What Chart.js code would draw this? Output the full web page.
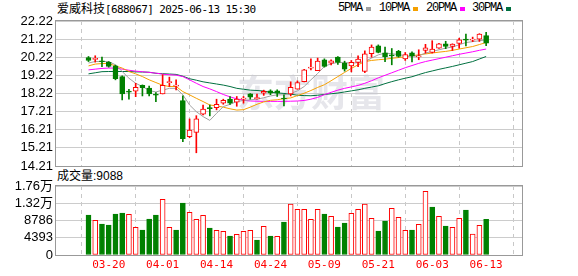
<!DOCTYPE html>
<html>
<head>
<meta charset="utf-8">
<script src="https://cdn.jsdelivr.net/npm/chart.js@4"></script>
<style>
  body { margin: 0; background: #fff; width: 578px; height: 276px; overflow: hidden; position: relative; }
  .txt { position: absolute; white-space: nowrap; color: #000; }
  #title { left: 57px; top: 1px; font: 12px/14px "Noto Sans CJK SC"; }
  #title .a { font: 11px "DejaVu Sans Mono"; letter-spacing: -0.6px; }
  #legend { left: 0; top: 1px; font: 12px/14px "Liberation Mono"; letter-spacing: -1.2px; }
  #legend span { position: absolute; }
  #legend i { position: absolute; width: 5px; height: 4px; top: 6px; }
  #volTitle { left: 57px; top: 169px; font: 12px/15px "Liberation Sans", "Noto Sans CJK SC"; }
  canvas { position: absolute; left: 0; }
  #kline { top: 0; }
  #vol { top: 170px; }
</style>
</head>
<body>
<div id="title" class="txt">爱威科技<span class="a">[688067] 2025-06-13 15:30</span></div>
<div id="legend" class="txt"></div>
<div id="volTitle" class="txt">成交量:9088</div>
<canvas id="kline" width="578" height="182"></canvas>
<canvas id="vol" width="578" height="106"></canvas>
<script>
const dates = ['03-17','03-18','03-19','03-20','03-21','03-24','03-25','03-26','03-27','03-28',
  '03-31','04-01','04-02','04-03','04-07','04-08','04-09','04-10','04-11','04-14',
  '04-15','04-16','04-17','04-18','04-21','04-22','04-23','04-24','04-25','04-28',
  '04-29','04-30','05-06','05-07','05-08','05-09','05-12','05-13','05-14','05-15',
  '05-16','05-19','05-20','05-21','05-22','05-23','05-26','05-27','05-28','05-29',
  '05-30','06-03','06-04','06-05','06-06','06-09','06-10','06-11','06-12','06-13'];

const opens = [20.20,20.10,19.99,19.93,19.74,19.15,18.31,18.34,18.67,18.51,
  18.14,18.19,18.82,18.62,17.82,15.83,16.07,17.07,17.42,17.43,
  17.68,17.91,17.73,17.90,18.19,17.93,18.23,18.36,18.36,17.94,
  18.19,18.45,18.87,19.62,19.48,20.08,19.89,20.22,19.89,19.74,
  19.93,19.43,20.42,20.85,20.46,20.31,20.54,20.13,20.46,20.24,
  20.59,20.48,20.72,20.96,20.81,20.98,21.18,21.16,21.22,21.41];
const highs = [20.26,20.30,20.22,19.98,19.78,19.19,18.45,18.78,18.69,18.63,
  18.26,19.25,19.12,18.97,18.08,16.81,16.99,17.58,17.58,17.90,
  17.90,18.05,18.05,18.05,18.21,18.18,18.40,18.42,18.42,18.14,
  18.86,18.91,19.55,20.13,20.17,20.13,20.07,20.26,20.00,20.04,
  20.30,20.57,20.90,20.90,20.78,20.70,20.60,20.48,20.52,20.63,
  20.93,21.13,20.98,21.10,20.96,21.27,21.50,21.33,21.52,21.60];
const lows = [19.98,19.95,19.70,19.67,18.97,17.86,17.90,18.04,18.08,18.08,
  17.77,18.19,18.60,18.41,15.56,15.77,14.94,17.03,16.98,17.31,
  17.62,17.61,17.51,17.68,17.90,17.90,18.11,18.15,18.05,17.53,
  18.08,18.45,18.85,19.52,19.48,19.67,19.79,19.82,19.45,19.41,
  19.70,19.37,20.22,20.46,19.97,19.80,20.22,20.04,19.96,20.08,
  20.44,20.45,20.70,20.69,20.59,20.72,20.85,21.08,21.09,20.86];
const closes = [20.04,20.13,19.97,19.71,19.04,18.19,18.29,18.56,18.54,18.19,
  18.12,18.67,18.86,18.66,15.72,16.20,16.81,17.36,17.38,17.62,
  17.84,17.68,17.91,17.93,18.01,17.96,18.34,18.23,18.23,17.91,
  18.56,18.82,19.52,19.67,20.00,19.71,20.02,19.93,19.56,19.93,
  20.11,20.41,20.78,20.48,20.24,20.29,20.26,20.37,20.30,20.28,
  20.74,20.67,20.96,20.81,20.94,21.18,21.16,21.20,21.50,21.00];

const ma5 = [19.90,19.98,19.98,19.98,19.80,19.43,19.06,18.78,18.60,18.38,
  18.30,18.40,18.50,18.50,18.14,17.58,17.21,16.94,16.73,17.12,
  17.49,17.62,17.77,17.83,17.86,17.90,17.98,18.08,18.14,18.14,
  18.22,18.36,18.60,18.97,19.32,19.71,19.86,19.93,19.93,19.89,
  19.92,19.98,20.17,20.35,20.45,20.41,20.37,20.30,20.26,20.30,
  20.45,20.54,20.63,20.72,20.78,20.91,21.03,21.08,21.13,21.18];
const ma10 = [19.74,19.84,19.87,19.87,19.74,19.62,19.43,19.30,19.15,18.97,
  18.82,18.67,18.60,18.60,18.32,18.14,17.95,17.77,17.58,17.53,
  17.46,17.37,17.30,17.32,17.46,17.62,17.75,17.84,17.87,17.93,
  17.97,18.10,18.23,18.38,18.55,18.70,18.92,19.15,19.38,19.60,
  19.80,19.98,20.04,20.08,20.11,20.16,20.20,20.24,20.30,20.35,
  20.40,20.45,20.50,20.54,20.60,20.67,20.74,20.81,20.92,21.03];
const ma20 = [19.52,19.56,19.60,19.62,19.62,19.56,19.50,19.45,19.42,19.38,
  19.34,19.28,19.25,19.23,19.15,18.97,18.78,18.60,18.47,18.32,
  18.16,18.03,17.92,17.84,17.80,17.79,17.78,17.78,17.78,17.78,
  17.79,17.80,17.83,17.90,18.00,18.15,18.28,18.40,18.50,18.58,
  18.66,18.78,18.92,19.08,19.22,19.36,19.50,19.64,19.76,19.88,
  19.98,20.06,20.14,20.22,20.30,20.38,20.45,20.52,20.60,20.67];
const ma30 = [19.30,19.36,19.42,19.43,19.43,19.43,19.43,19.41,19.40,19.39,
  19.33,19.31,19.29,19.27,19.17,19.03,18.95,18.86,18.80,18.74,
  18.68,18.60,18.50,18.45,18.40,18.38,18.35,18.28,18.25,18.22,
  18.18,18.12,18.10,18.09,18.12,18.16,18.20,18.24,18.30,18.36,
  18.42,18.50,18.57,18.64,18.76,18.87,18.97,19.06,19.14,19.26,
  19.37,19.46,19.55,19.63,19.71,19.80,19.89,19.98,20.12,20.26];

const volumes = [10187,8829,7895,7640,10441,10696,10357,7046,6367,9168,
  10187,14176,7046,6367,13243,10866,9083,10102,6876,6282,
  6027,4839,5263,6027,6282,3820,7300,4839,4754,8404,
  12988,11630,11630,9083,11630,10441,9847,7131,8149,10611,
  11630,12988,9338,6112,8659,11884,9593,6282,6367,7810,
  16214,12224,9847,7385,7046,9338,11460,5348,7555,9088];
// 1 = red (up) volume bar, 0 = green
const volUp = [0,1,0,0,0,0,1,1,0,0, 0,1,1,0,0,1,1,1,0,1,
  1,0,1,1,1,0,1,0,1,0, 1,1,1,1,1,0,1,0,0,1,
  1,1,1,0,0,1,1,1,0,1, 1,0,1,0,1,1,0,1,1,0];

const priceTicks = [14.21,15.21,16.21,17.21,18.22,19.22,20.22,21.22,22.22];
const volTicks = [0,4393,8786,13179,17572];
const volTickLabels = ['0','4393','8786','1.32万','1.76万'];
const dateTicks = [3,11,19,27,35,43,51,59];
const maNames = ['5PMA','10PMA','20PMA','30PMA'];

const RED = '#ff0000', GREEN = '#008000';
const maColors = ['#a0a0a0','#f5a000','#ff00ff','#007040'];
const tickFont = { family: '"Liberation Sans", "Noto Sans CJK SC"', size: 13 };

// legend
const legendLefts = [338, 379, 426, 472];
const legend = document.getElementById('legend');
maNames.forEach((n, k) => {
  const s = document.createElement('span');
  s.textContent = n;
  s.style.left = legendLefts[k] + 'px';
  legend.appendChild(s);
  const q = document.createElement('i');
  q.style.left = (legendLefts[k] + n.length * 6 + 4) + 'px';
  q.style.background = maColors[k];
  legend.appendChild(q);
});

const frame = {
  id: 'frame',
  beforeDatasetsDraw(chart, args, opts) {
    if (!opts.mark) return;
    const ctx = chart.ctx;
    ctx.save();
    ctx.font = 'bold 37px "Noto Sans CJK SC"';
    ctx.fillStyle = 'rgba(200,200,210,0.45)';
    ctx.textAlign = 'center';
    ctx.textBaseline = 'middle';
    ctx.fillText(opts.mark, 311, 93);
    ctx.restore();
  },
  afterDraw(chart) {
    const a = chart.chartArea, ctx = chart.ctx;
    ctx.save();
    ctx.strokeStyle = '#999';
    ctx.lineWidth = 1;
    ctx.strokeRect(Math.round(a.left) - 0.5, Math.round(a.top) - 0.5,
      Math.round(a.right - a.left) + 1, Math.round(a.bottom - a.top) + 1);
    ctx.restore();
  }
};

const idx = dates.map((d, i) => i);
const up = idx.map(i => closes[i] >= opens[i]);

function maSet(vals, k) {
  return {
    type: 'line',
    data: vals.map((v, i) => ({ x: i, y: v })),
    borderColor: maColors[k],
    borderWidth: 1,
    pointRadius: 0,
    tension: 0,
    order: 5
  };
}

function xAxis(showLabels, h) {
  return {
    type: 'linear', min: -0.5, max: 60,
    afterBuildTicks: s => { s.ticks = dateTicks.map(v => ({ value: v })); },
    afterFit: s => { s.height = h; },
    ticks: {
      display: showLabels, color: RED, padding: 4,
      font: { family: '"DejaVu Sans Mono"', size: 11 },
      maxRotation: 0, autoSkip: false,
      callback: v => dates[v]
    },
    grid: { color: '#c8c8c8', drawTicks: false },
    border: { display: false, dash: [4, 4] }
  };
}

function yAxis(min, max, ticks, fmt) {
  return {
    min: min, max: max,
    afterBuildTicks: s => { s.ticks = ticks.map(v => ({ value: v })); },
    afterFit: s => { s.width = 56; },
    ticks: { color: '#000', font: tickFont, padding: 3, autoSkip: false, callback: fmt },
    grid: { color: '#cccccc', drawTicks: false },
    border: { display: false }
  };
}

new Chart(document.getElementById('kline'), {
  type: 'bar',
  data: {
    datasets: [
      {
        data: idx.map(i => ({ x: i, y: [lows[i], highs[i]] })),
        backgroundColor: up.map(u => u ? RED : GREEN),
        barThickness: 1, grouped: false, order: 2
      },
      {
        data: idx.map(i => ({ x: i, y: [opens[i], closes[i]] })),
        backgroundColor: up.map(u => u ? '#ffffff' : GREEN),
        borderColor: up.map(u => u ? RED : GREEN),
        borderWidth: 1, borderSkipped: false, minBarLength: 1,
        barThickness: 5, grouped: false, order: 1
      },
      maSet(ma5, 0), maSet(ma10, 1), maSet(ma20, 2), maSet(ma30, 3)
    ]
  },
  options: {
    responsive: false, animation: false, devicePixelRatio: 1,
    layout: { padding: { top: 21, right: 56, left: 0, bottom: 0 } },
    plugins: { legend: { display: false }, tooltip: { enabled: false }, frame: { mark: '东方财富' } },
    scales: {
      x: xAxis(false, 16),
      y: yAxis(14.21, 22.22, priceTicks, v => v.toFixed(2))
    }
  },
  plugins: [frame]
});

new Chart(document.getElementById('vol'), {
  type: 'bar',
  data: {
    datasets: [{
      data: idx.map(i => ({ x: i, y: volumes[i] })),
      backgroundColor: volUp.map(u => u ? '#ffffff' : GREEN),
      borderColor: volUp.map(u => u ? RED : GREEN),
      borderWidth: 1, borderSkipped: false,
      barThickness: 5, grouped: false
    }]
  },
  options: {
    responsive: false, animation: false, devicePixelRatio: 1,
    layout: { padding: { top: 16, right: 56, left: 0, bottom: 0 } },
    plugins: { legend: { display: false }, tooltip: { enabled: false } },
    scales: {
      x: xAxis(true, 21),
      y: yAxis(0, 17572, volTicks, v => volTickLabels[volTicks.indexOf(v)])
    }
  },
  plugins: [frame]
});
</script>
</body>
</html>
